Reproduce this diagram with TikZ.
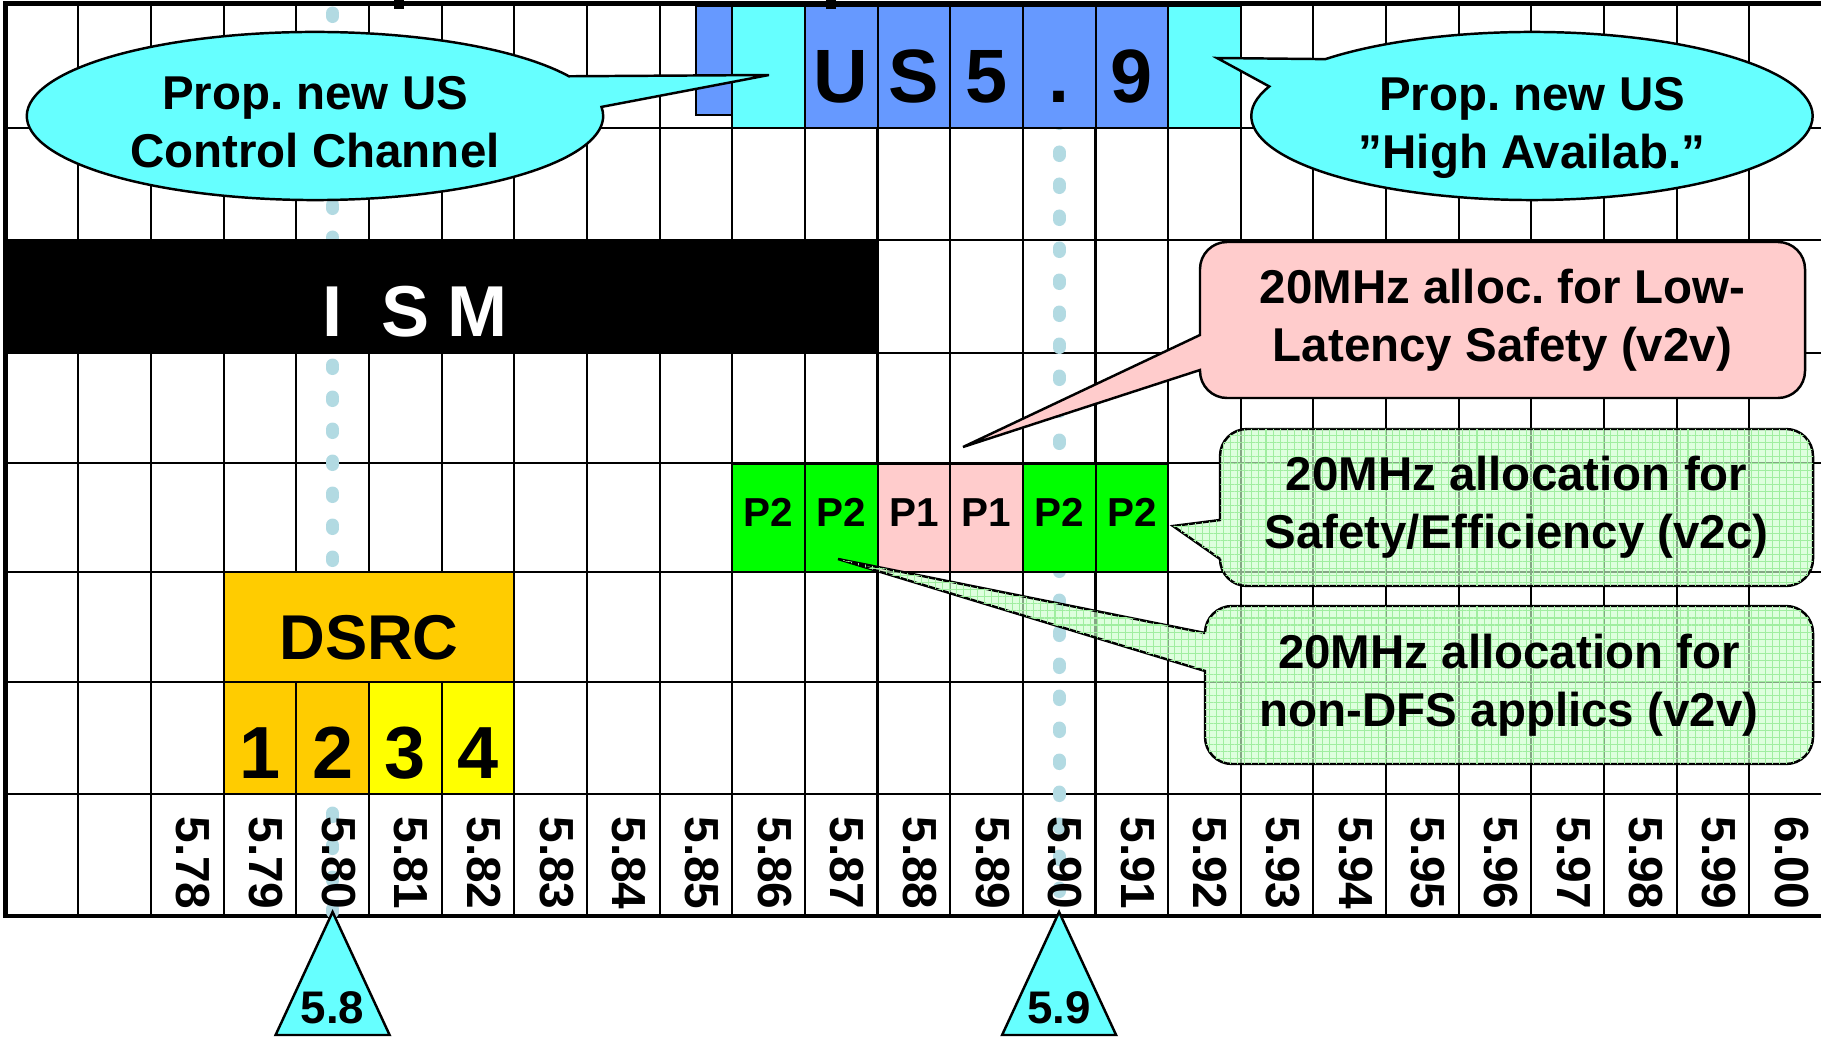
\documentclass[tikz,border=0pt]{standalone}
\usepackage{fontspec}
\setmainfont{Liberation Sans}
\usepackage{tikz}
\usetikzlibrary{positioning,calc,shapes.callouts,patterns.meta}
\definecolor{usCyan}{RGB}{102,255,255}
\definecolor{usBlue}{RGB}{102,153,255}
\definecolor{dsrcOrange}{RGB}{255,204,0}
\definecolor{dsrcYellow}{RGB}{255,255,0}
\definecolor{pGreen}{RGB}{0,255,0}
\definecolor{pPink}{RGB}{255,204,204}
\definecolor{noteGreen}{RGB}{204,255,204}
\definecolor{gridGreen}{RGB}{160,238,160}
\definecolor{dotColor}{RGB}{178,218,226}
\tikzset{
    gridline/.style={line width=0.6pt},
    border/.style={line width=1.4pt},
    dotline/.style={dotColor, line width=3.7pt, line cap=round, dash pattern=on 1pt off 8.1pt},
    cell/.style={
        draw,
        line width=0.6pt,
        inner sep=0pt,
        outer sep=0pt,
        minimum width=0.7265cm,
        anchor=north west
    },
    uscell/.style={cell, fill=usBlue, minimum height=1.22cm,
        font=\fontsize{21.5}{21.5}\selectfont\bfseries, text height=19.9pt, text depth=0pt},
    pcell/.style={cell, minimum height=1.08cm,
        font=\fontsize{11.5}{12}\selectfont\bfseries, text height=8.2pt, text depth=3.1pt},
    chcell/.style={cell, minimum height=1.12cm,
        font=\fontsize{21}{21}\selectfont\bfseries, text height=22.8pt, text depth=0pt},
    axislbl/.style={rotate=-90, inner sep=0pt, font=\fontsize{13.6}{14}\selectfont\bfseries},
    ovalcall/.style={
        ellipse callout,
        draw,
        line width=0.7pt,
        fill=usCyan,
        callout pointer arc=22,
        minimum height=1.68cm,
        inner sep=0pt
    },
    notetext/.style={align=center, inner sep=0pt, font=\fontsize{13.5}{16.5}\selectfont\bfseries},
    pinknote/.style={draw, line width=0.7pt, fill=pPink},
    greennote/.style={draw, line width=0.7pt, fill=noteGreen, fill opacity=0.65,
        postaction={pattern={Hatch[angle=0, distance=2pt, line width=0.3pt]}, pattern color=gridGreen}},
    marker/.style={draw, line width=0.7pt, fill=usCyan},
    markerlbl/.style={anchor=base, inner sep=0pt, font=\fontsize{13}{13}\selectfont\bfseries}
}

\begin{document}
\frenchspacing
\begin{tikzpicture}[x=0.01cm, y=-0.01cm]
    \useasboundingbox (0,0) rectangle (1821,1040);

    % frequency grid
    \foreach \k in {1,...,24}
        \draw[gridline] ({5.7+72.65*\k},3.5) -- ({5.7+72.65*\k},916);
    \foreach \y in {128,240,353,463,572,682,794}
        \draw[gridline] (5.5,\y) -- (1825,\y);
    \draw[border] (1825,3.5) -- (5.5,3.5) -- (5.5,916) -- (1825,916);

    % marker lines
    \coordinate (top58) at (332.6,13);
    \coordinate (apex58) at (332.6,912);
    \coordinate (top59) at (1059.1,24);
    \coordinate (apex59) at (1059.1,912);
    \draw[dotline] (top58) -- (apex58);
    \draw[dotline] (top59) -- (apex59);

    % US 5.9 row
    \node[cell, fill=usBlue, minimum width=0.36cm, minimum height=1.09cm] (usedge) at (696,6) {};
    \node[cell, fill=usCyan, minimum height=1.22cm] (uslow) at (732.2,6) {};
    \node[uscell, right=0pt of uslow] (u1) {U};
    \node[uscell, right=0pt of u1] (u2) {S};
    \node[uscell, right=0pt of u2] (u3) {5};
    \node[uscell, right=0pt of u3] (u4) {.};
    \node[uscell, right=0pt of u4] (u5) {9};
    \node[cell, fill=usCyan, minimum height=1.22cm, right=0pt of u5] (ushigh) {};

    % ISM band
    \node[cell, fill=black, minimum width=8.72cm, minimum height=1.13cm] (ism) at (5.5,240) {};
    \node[anchor=base, text=white, inner sep=0pt, font=\fontsize{20.5}{20.5}\selectfont\bfseries] (ismlbl) at (405.3,337)
        {\makebox[0.7265cm]{I}\makebox[0.7265cm]{S}\makebox[0.7265cm]{M}};

    % P1 / P2 channels
    \node[pcell, fill=pGreen] (pa) at (732.2,464) {P2};
    \node[pcell, fill=pGreen, right=0pt of pa] (pb) {P2};
    \node[pcell, fill=pPink, right=0pt of pb] (pc) {P1};
    \node[pcell, fill=pPink, right=0pt of pc] (pd) {P1};
    \node[pcell, fill=pGreen, right=0pt of pd] (pe) {P2};
    \node[pcell, fill=pGreen, right=0pt of pe] (pf) {P2};

    % DSRC
    \node[cell, fill=dsrcOrange, minimum width=2.906cm, minimum height=1.10cm,
          font=\fontsize{18}{18}\selectfont\bfseries, text height=18.2pt, text depth=0pt] (dsrc) at (223.65,572) {DSRC};
    \node[chcell, fill=dsrcOrange] (ch1) at (223.65,682) {1};
    \node[chcell, fill=dsrcOrange, right=0pt of ch1] (ch2) {2};
    \node[chcell, fill=dsrcYellow, right=0pt of ch2] (ch3) {3};
    \node[chcell, fill=dsrcYellow, right=0pt of ch3] (ch4) {4};

    % axis
    \foreach \lbl [count=\k from 3] in {5.78,5.79,5.80,5.81,5.82,5.83,5.84,5.85,5.86,5.87,5.88,5.89,
                                         5.90,5.91,5.92,5.93,5.94,5.95,5.96,5.97,5.98,5.99,6.00}
        \node[axislbl] (ax\k) at ({5.7+72.65*(\k-0.5)+6},863) {\lbl};

    % callouts
    \coordinate (ctrltip) at (769,75);
    \node[ovalcall, minimum width=5.76cm, callout absolute pointer={(ctrltip)}] (ctrl) at (315,116) {};
    \node[notetext] (ctrllbl) at (315,122) {Prop. new US\\Control Channel};
    \coordinate (hightip) at (1217,58);
    \node[ovalcall, minimum width=5.61cm, callout absolute pointer={(hightip)}] (high) at (1532,116) {};
    \node[notetext] (highlbl) at (1532,128) {Prop. new US\\''High Availab.''};

    \coordinate (lowtip) at (963,447);
    \draw[pinknote] (lowtip) -- (1200,335) [rounded corners=0.27cm] -- (1200,242) -- (1805,242)
        -- (1805,398) -- (1200,398) [sharp corners] -- (1200,370) -- cycle;
    \node[notetext] (lowlat) at (1502.5,320) {20MHz alloc. for Low-\\Latency Safety (v2v)};

    \coordinate (efftip) at (1173,526);
    \draw[greennote] (efftip) -- (1220,520) [rounded corners=0.27cm] -- (1220,429) -- (1813,429)
        -- (1813,586) -- (1220,586) [sharp corners] -- (1220,559) -- cycle;
    \node[notetext] (eff) at (1516.5,507.5) {20MHz allocation for\\Safety/Efficiency (v2c)};

    \coordinate (dfstip) at (838,559);
    \draw[greennote] (dfstip) -- (1205,633) [rounded corners=0.27cm] -- (1205,606) -- (1813,606)
        -- (1813,764) -- (1205,764) [sharp corners] -- (1205,671) -- cycle;
    \node[notetext] (dfs) at (1509,685) {20MHz allocation for\\non-DFS applics (v2v)};

    % 5.8 / 5.9 markers
    \path[marker] (apex58) -- ++(-57,123) -- ++(114,0) -- cycle;
    \node[markerlbl] (lbl58) at (332.6,1023) {5.8};
    \path[marker] (apex59) -- ++(-57,123) -- ++(114,0) -- cycle;
    \node[markerlbl] (lbl59) at (1059.1,1023) {5.9};

    \fill (394,0) rectangle (404,9);
    \fill (826,0) rectangle (836,9);
\end{tikzpicture}
\end{document}
